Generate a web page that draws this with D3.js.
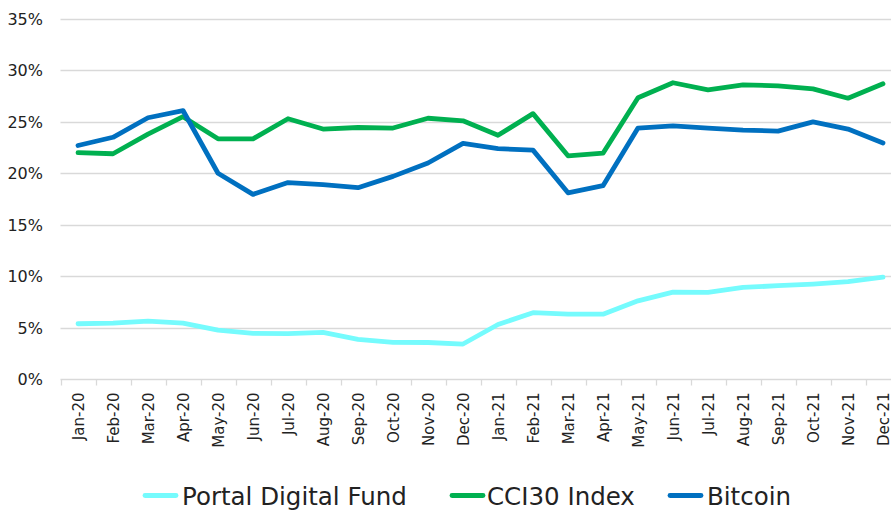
<!DOCTYPE html>
<html>
<head>
<meta charset="utf-8">
<script src="https://cdn.jsdelivr.net/npm/d3@7"></script>
<style>
  body { margin: 0; background: #fff; }
  svg text { font-family: "DejaVu Sans", sans-serif; fill: #222; }
</style>
</head>
<body>
<div id="chart"></div>
<script>
// month labels
var months = ['Jan-20','Feb-20','Mar-20','Apr-20','May-20','Jun-20','Jul-20','Aug-20','Sep-20','Oct-20','Nov-20','Dec-20',
              'Jan-21','Feb-21','Mar-21','Apr-21','May-21','Jun-21','Jul-21','Aug-21','Sep-21','Oct-21','Nov-21','Dec-21'];

// values in percent
var portalValues = [5.37, 5.44, 5.62, 5.44, 4.75, 4.44, 4.42, 4.54, 3.86, 3.57, 3.55, 3.4,
                    5.3, 6.45, 6.3, 6.3, 7.6, 8.45, 8.42, 8.9, 9.07, 9.23, 9.46, 9.9];
var cci30Values = [22.0, 21.9, 23.8, 25.5, 23.35, 23.35, 25.3, 24.3, 24.45, 24.4, 25.35, 25.1,
                   23.7, 25.8, 21.7, 21.95, 27.35, 28.8, 28.1, 28.6, 28.5, 28.2, 27.3, 28.7];
var bitcoinValues = [22.7, 23.5, 25.4, 26.1, 20.0, 17.95, 19.1, 18.9, 18.6, 19.7, 21.0, 22.9,
                     22.4, 22.25, 18.1, 18.8, 24.4, 24.6, 24.4, 24.2, 24.1, 25.0, 24.3, 22.95];

var yTicks = [0, 5, 10, 15, 20, 25, 30, 35];

var seriesNames = ['Portal Digital Fund', 'CCI30 Index', 'Bitcoin'];
var seriesColors = ['#75fbfd', '#00b050', '#0070c0'];

var width = 891, height = 510;
// plot runs a bit past the right edge, as in the original
var plotLeft = 60.5, plotRight = 900.5, plotTop = 19, plotBottom = 379;

var svg = d3.select('#chart').append('svg')
    .attr('width', width)
    .attr('height', height);

var x = d3.scaleBand().domain(months).range([plotLeft, plotRight]);
var y = d3.scaleLinear().domain([0, 35]).range([plotBottom, plotTop]);

// gridlines
svg.append('g').selectAll('line')
    .data(yTicks.filter(function(d) { return d > 0; }))
    .enter().append('line')
    .attr('x1', plotLeft).attr('x2', width)
    .attr('y1', function(d) { return Math.round(y(d)) + 0.5; })
    .attr('y2', function(d) { return Math.round(y(d)) + 0.5; })
    .style('stroke', '#d9d9d9')
    .style('stroke-width', 1.3);

// y labels
svg.append('g').selectAll('text')
    .data(yTicks)
    .enter().append('text')
    .attr('x', 43)
    .attr('y', function(d) { return y(d) + 6; })
    .attr('text-anchor', 'end')
    .style('font-size', '16px')
    .text(function(d) { return d + '%'; });

// x axis with ticks on band edges
var xAxis = svg.append('g').attr('transform', 'translate(0,' + (Math.round(plotBottom) + 0.5) + ')');
xAxis.append('line')
    .attr('x1', plotLeft).attr('x2', width)
    .style('stroke', '#d9d9d9').style('stroke-width', 1.3);
xAxis.selectAll('line.tick')
    .data(months)
    .enter().append('line')
    .attr('class', 'tick')
    .attr('x1', function(d) { return Math.round(x(d)) + 0.5; })
    .attr('x2', function(d) { return Math.round(x(d)) + 0.5; })
    .attr('y1', 0).attr('y2', 6)
    .style('stroke', '#d9d9d9').style('stroke-width', 1.3);
xAxis.selectAll('text')
    .data(months)
    .enter().append('text')
    .attr('transform', function(d) {
        return 'translate(' + (x(d) + x.bandwidth() / 2 + 6) + ',13) rotate(-90)';
    })
    .attr('text-anchor', 'end')
    .style('font-size', '15px')
    .text(function(d) { return d; });

// lines
var allSeries = [portalValues, cci30Values, bitcoinValues];
var line = d3.line()
    .x(function(d, i) { return x(months[i]) + x.bandwidth() / 2; })
    .y(function(d) { return y(d); });

svg.append('g').selectAll('path')
    .data(allSeries)
    .enter().append('path')
    .attr('d', line)
    .style('fill', 'none')
    .style('stroke', function(d, i) { return seriesColors[i]; })
    .style('stroke-width', 4.8)
    .style('stroke-linejoin', 'round')
    .style('stroke-linecap', 'round');

// legend
var legendX = [143, 450, 668];
var legend = svg.append('g').selectAll('g')
    .data(seriesNames)
    .enter().append('g')
    .attr('transform', function(d, i) { return 'translate(' + legendX[i] + ',495.5)'; });
legend.append('line')
    .attr('x1', 2).attr('x2', 33)
    .style('stroke', function(d, i) { return seriesColors[i]; })
    .style('stroke-width', 4.8)
    .style('stroke-linecap', 'round');
legend.append('text')
    .attr('x', function(d, i) { return i === 1 ? 37 : 39; })
    .attr('y', 9.5)
    .style('font-size', '24.5px')
    .text(function(d) { return d; });
</script>
</body>
</html>
